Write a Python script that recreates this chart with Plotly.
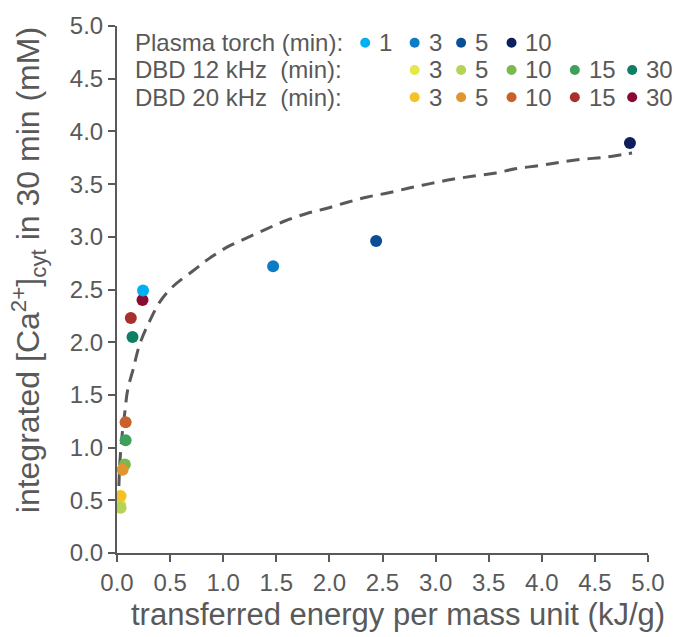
import plotly.graph_objects as go

# ---------------- data ----------------
plasma_labels = ["1", "3", "5", "10"]
plasma_x = [0.245, 1.47, 2.44, 4.83]
plasma_y = [2.49, 2.72, 2.96, 3.89]
plasma_colors = ["#00B0F0", "#0C7CC4", "#0A4F96", "#0D1F5C"]

dbd12_labels = ["3", "5", "10", "15", "30"]
dbd12_x = [0.030, 0.034, 0.074, 0.081, 0.146]
dbd12_y = [0.46, 0.43, 0.84, 1.07, 2.05]
dbd12_colors = ["#E6E84A", "#B4D455", "#7DB84C", "#3FA05C", "#0E7F62"]

dbd20_labels = ["3", "5", "10", "15", "30"]
dbd20_x = [0.034, 0.053, 0.081, 0.13, 0.24]
dbd20_y = [0.54, 0.79, 1.24, 2.23, 2.40]
dbd20_colors = ["#F3C227", "#E0962E", "#C9612B", "#A8302B", "#8B0A32"]

# trend line
trend_x = [0.012, 0.019, 0.028, 0.049, 0.074, 0.10, 0.152, 0.214, 0.307, 0.40,
           0.524, 0.726, 0.866, 1.036, 1.208, 1.40, 1.58, 1.78, 1.97, 2.17,
           2.36, 2.56, 2.77, 2.96, 3.16, 3.36, 3.57, 3.75, 3.97, 4.16, 4.37,
           4.59, 4.78, 4.85]
trend_y = [0.436, 0.669, 0.872, 1.129, 1.337, 1.545, 1.743, 1.981, 2.199, 2.377,
           2.526, 2.685, 2.793, 2.902, 2.982, 3.071, 3.150, 3.219, 3.269, 3.328,
           3.378, 3.418, 3.467, 3.507, 3.546, 3.576, 3.606, 3.645, 3.675, 3.705, 3.735,
           3.754, 3.784, 3.794]

x_ticks = [0.0, 0.5, 1.0, 1.5, 2.0, 2.5, 3.0, 3.5, 4.0, 4.5, 5.0]
y_ticks = [0.0, 0.5, 1.0, 1.5, 2.0, 2.5, 3.0, 3.5, 4.0, 4.5, 5.0]

legend_rows = ["Plasma torch (min):", "DBD 12 kHz\u00a0 (min):", "DBD 20 kHz\u00a0 (min):"]

# ---------------- layout geometry (pixels) ----------------
W, H = 677, 637
ML, MR, MT, MB = 117, 23, 20, 84
PW = W - ML - MR
PH = H - MT - MB
GREY = "#595959"
FONT = "Liberation Sans, Arial, sans-serif"


def px_x(p):
    return (p - ML) / PW


def px_y(p):
    return (H - MB - p) / PH


fig = go.Figure()

fig.add_trace(go.Scatter(
    x=trend_x, y=trend_y, mode="lines",
    line=dict(color=GREY, width=3, dash="13px,8px", shape="spline"),
    hoverinfo="skip", showlegend=False))

groups = [
    (dbd12_x, dbd12_y, dbd12_colors, dbd12_labels, "DBD 12 kHz"),
    (dbd20_x, dbd20_y, dbd20_colors, dbd20_labels, "DBD 20 kHz"),
    (plasma_x, plasma_y, plasma_colors, plasma_labels, "Plasma torch"),
]
for xs, ys, cs, ls, name in groups:
    for x, y, c, l in zip(xs, ys, cs, ls):
        fig.add_trace(go.Scatter(x=[x], y=[y], mode="markers",
                                 marker=dict(color=c, size=12, line=dict(width=0)),
                                 name=f"{name} {l} min", showlegend=False))

# ---------------- custom legend ----------------
row_y = [37, 64.5, 92]
dot_cols = [368, 418, 465, 516, 580, 638]
shapes = []
annotations = []
for r, txt in enumerate(legend_rows):
    annotations.append(dict(text=txt, x=px_x(133), y=px_y(row_y[r]), xref="paper", yref="paper",
                            xanchor="left", yanchor="middle", showarrow=False,
                            font=dict(size=24, color=GREY, family=FONT)))
legend_sets = [(plasma_labels, plasma_colors, 0), (dbd12_labels, dbd12_colors, 1), (dbd20_labels, dbd20_colors, 1)]
for r, (labels, colors, start) in enumerate(legend_sets):
    for i, (l, c) in enumerate(zip(labels, colors)):
        cx = dot_cols[start + i]
        shapes.append(dict(type="circle", xref="paper", yref="paper",
                           xsizemode="pixel", ysizemode="pixel",
                           xanchor=px_x(cx), yanchor=px_y(row_y[r]),
                           x0=-5, x1=5, y0=-5, y1=5,
                           fillcolor=c, line=dict(width=0)))
        annotations.append(dict(text=l, x=px_x(cx + 12), y=px_y(row_y[r]), xref="paper", yref="paper",
                                xanchor="left", yanchor="middle", showarrow=False,
                                font=dict(size=24, color=GREY, family=FONT)))

# axis titles
annotations.append(dict(text="transferred energy per mass unit (kJ/g)", x=px_x(401), y=px_y(615),
                        xref="paper", yref="paper", xanchor="center", yanchor="middle", showarrow=False,
                        font=dict(size=31, color=GREY, family=FONT)))
annotations.append(dict(text="integrated [Ca<sup>2+</sup>]<sub>cyt</sub> in 30 min (mM)", x=px_x(27), y=px_y(267),
                        xref="paper", yref="paper", xanchor="center", yanchor="middle", showarrow=False,
                        textangle=-90, font=dict(size=32, color=GREY, family=FONT)))

axis_common = dict(range=[0, 5], showgrid=False, zeroline=False, showline=True, linecolor=GREY,
                   linewidth=2, ticks="outside", ticklen=7, tickwidth=2, tickcolor=GREY,
                   tickfont=dict(size=24, color=GREY, family=FONT), tickformat=".1f")

fig.update_layout(
    width=W, height=H, margin=dict(l=ML, r=MR, t=MT, b=MB),
    paper_bgcolor="white", plot_bgcolor="white",
    xaxis=dict(**axis_common, tickvals=x_ticks),
    yaxis=dict(**axis_common, tickvals=y_ticks),
    shapes=shapes, annotations=annotations, showlegend=False,
)

fig.write_html("out.html", config={"displayModeBar": False})
